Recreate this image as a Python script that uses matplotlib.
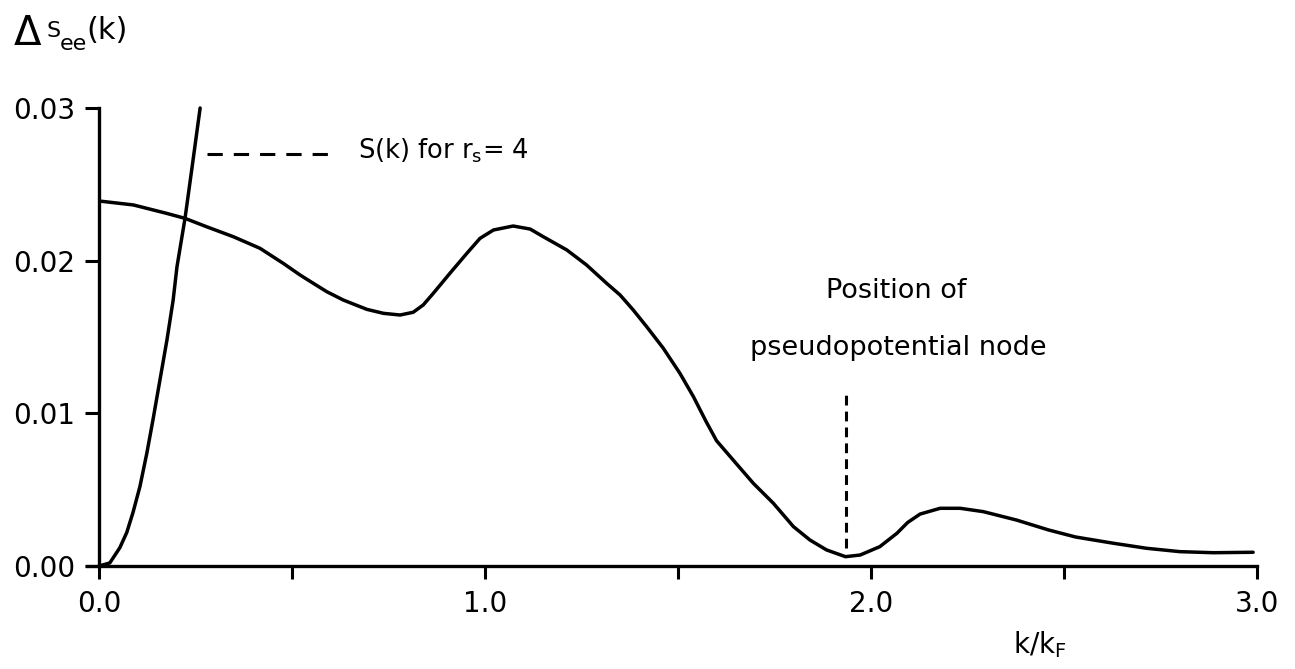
import matplotlib
matplotlib.use("Agg")
import matplotlib.pyplot as plt

plt.rcParams['font.family'] = ['DejaVu Sans']

# ---- data ----
k_dsee = [0.003, 0.089, 0.175, 0.223, 0.279, 0.348, 0.417, 0.477, 0.521, 0.555,
          0.590, 0.633, 0.694, 0.737, 0.780, 0.814, 0.840, 0.866, 0.909, 0.953,
          0.987, 1.022, 1.073, 1.117, 1.151, 1.212, 1.263, 1.315, 1.350, 1.384,
          1.419, 1.462, 1.505, 1.540, 1.572, 1.600, 1.643, 1.695, 1.747,
          1.799, 1.842, 1.885, 1.934, 1.972, 2.023, 2.067, 2.095, 2.127, 2.179,
          2.231, 2.291, 2.377, 2.460, 2.530, 2.628, 2.714, 2.800, 2.887, 2.990]
v_dsee = [0.02390, 0.02365, 0.02310, 0.02277, 0.02222, 0.02157, 0.02081, 0.01983, 0.01906, 0.01852,
          0.01797, 0.01742, 0.01681, 0.01655, 0.01644, 0.01662, 0.01710, 0.01786, 0.01917, 0.02048,
          0.02146, 0.02201, 0.02227, 0.02207, 0.02157, 0.02070, 0.01972, 0.01852, 0.01775, 0.01677,
          0.01567, 0.01426, 0.01262, 0.01109, 0.00950, 0.00820, 0.00694, 0.00542, 0.00411,
          0.00258, 0.00170, 0.00105, 0.00061, 0.00072, 0.00127, 0.00214, 0.00285, 0.00340, 0.00378,
          0.00378, 0.00356, 0.00301, 0.00236, 0.00190, 0.00149, 0.00116, 0.00094, 0.00087, 0.00090]

k_sk = [0.000, 0.028, 0.054, 0.072, 0.088, 0.106, 0.124, 0.140, 0.158, 0.176,
        0.192, 0.202, 0.223, 0.241, 0.262]
v_sk = [0.0000, 0.0002, 0.0012, 0.0022, 0.0035, 0.0052, 0.0074, 0.0096, 0.0122, 0.0148,
        0.0174, 0.0196, 0.0228, 0.0261, 0.0300]

node_k = 1.935
node_v = [0.0012, 0.0114]
legend_dash_k = [0.280, 0.611]
legend_dash_v = 0.0270

x_ticks = [0.0, 0.5, 1.0, 1.5, 2.0, 2.5, 3.0]
x_ticklabels = ["0.0", "", "1.0", "", "2.0", "", "3.0"]
y_ticks = [0.00, 0.01, 0.02, 0.03]
y_ticklabels = ["0.00", "0.01", "0.02", "0.03"]

W, H = 1295, 669
fig = plt.figure(figsize=(W / 100, H / 100), dpi=100)
ax = fig.add_axes([99 / W, 1 - 566 / H, (1257 - 99) / W, (566 - 108) / H])

LW = 2.5
ax.plot(k_dsee, v_dsee, color='black', lw=LW, clip_on=False,
        solid_capstyle='round', solid_joinstyle='round')
ax.plot(k_sk, v_sk, color='black', lw=LW, clip_on=False,
        solid_capstyle='round', solid_joinstyle='round')
ax.plot([node_k, node_k], node_v, color='black', lw=2.2, linestyle=(0, (3.2, 2.0)), clip_on=False)
ax.plot(legend_dash_k, [legend_dash_v, legend_dash_v], color='black', lw=2.2,
        linestyle=(0, (5.0, 3.6)), clip_on=False)

ax.set_xlim(0, 3.0)
ax.set_ylim(0, 0.03)
for s in ['top', 'right']:
    ax.spines[s].set_visible(False)
for s in ['left', 'bottom']:
    ax.spines[s].set_linewidth(2.4)
ax.plot([-0.03, 0], [0, 0], color='black', lw=2.4, clip_on=False)

ax.set_xticks(x_ticks)
ax.set_xticklabels(x_ticklabels, fontsize=20)
ax.set_yticks(y_ticks)
ax.set_yticklabels(y_ticklabels, fontsize=20)
ax.tick_params(axis='x', direction='out', length=9, width=2.2, pad=8)
ax.tick_params(axis='y', direction='out', length=10, width=2.2, pad=7)

# annotations
ax.text(0.671, 0.0267, r"S(k) for r$_\mathrm{s}$= 4", fontsize=18.5, va='baseline', ha='left')
ax.text(2.065, 0.01755, "Position of", fontsize=19.5, va='baseline', ha='center')
ax.text(2.07, 0.01382, "pseudopotential node", fontsize=19.5, va='baseline', ha='center')

# axis titles (placed in pixel positions)
def fx(px):
    return px / W

def fy(py):
    return 1 - py / H

fig.text(fx(14), fy(45), "Δ", fontsize=29, va='baseline', ha='left')
fig.text(fx(47), fy(37), "S", fontsize=16, va='baseline', ha='left')
fig.text(fx(60), fy(50), "ee", fontsize=16, va='baseline', ha='left')
fig.text(fx(86), fy(39), "(k)", fontsize=22, va='baseline', ha='left')
fig.text(fx(1013), fy(653), r"k/k$_\mathrm{F}$", fontsize=20, va='baseline', ha='left')

fig.savefig("out.png", dpi=100, facecolor='white')
